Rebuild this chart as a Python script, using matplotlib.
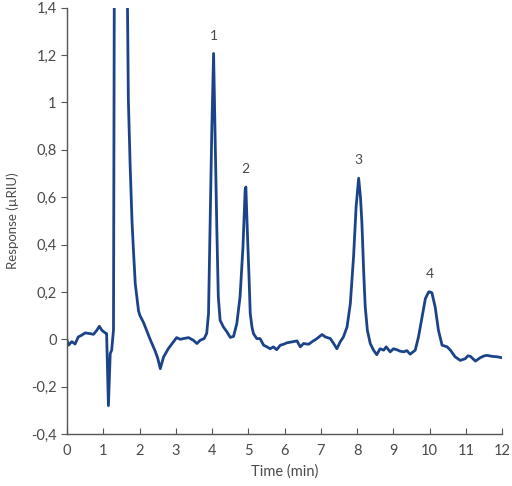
import matplotlib
matplotlib.use("Agg")
import matplotlib.pyplot as plt
from matplotlib.ticker import FuncFormatter, MultipleLocator

# Chromatogram trace (time in min, response in uRIU)
zeit = [0.00, 0.04, 0.13, 0.22, 0.31, 0.40, 0.50, 0.63, 0.73, 0.82, 0.89, 0.96, 1.05, 1.09,
        1.14, 1.19, 1.23, 1.28, 1.31, 1.47, 1.63, 1.69, 1.74, 1.79, 1.83, 1.88, 1.97, 2.01,
        2.06, 2.11, 2.20, 2.29, 2.36, 2.43, 2.50, 2.57, 2.66, 2.79, 2.93, 3.02, 3.12, 3.21,
        3.35, 3.48, 3.58, 3.67, 3.78, 3.85, 3.90, 3.94, 3.99, 4.04, 4.08, 4.13, 4.17, 4.22,
        4.31, 4.41, 4.50, 4.59, 4.68, 4.77, 4.85, 4.91, 4.93, 4.97, 5.02, 5.05, 5.10, 5.14,
        5.23, 5.32, 5.42, 5.51, 5.60, 5.69, 5.78, 5.88, 5.97, 6.06, 6.20, 6.34, 6.43, 6.52,
        6.66, 6.75, 6.89, 7.03, 7.12, 7.26, 7.35, 7.44, 7.53, 7.62, 7.72, 7.81, 7.90, 7.97,
        8.04, 8.09, 8.13, 8.18, 8.22, 8.28, 8.36, 8.45, 8.54, 8.63, 8.73, 8.80, 8.91, 9.00,
        9.09, 9.18, 9.28, 9.37, 9.46, 9.60, 9.69, 9.79, 9.88, 9.97, 10.01, 10.06, 10.15,
        10.24, 10.34, 10.48, 10.57, 10.70, 10.84, 10.98, 11.05, 11.12, 11.26, 11.39, 11.50,
        11.58, 11.72, 11.86, 12.00]
signal = [-0.004, -0.025, -0.010, -0.020, 0.010, 0.017, 0.027, 0.024, 0.021, 0.038, 0.055,
          0.038, 0.027, 0.024, -0.280, -0.060, -0.046, 0.040, 2.000, 4.000, 2.000, 1.010,
          0.730, 0.500, 0.376, 0.235, 0.120, 0.100, 0.085, 0.070, 0.035, 0.000, -0.025,
          -0.050, -0.080, -0.124, -0.075, -0.040, -0.011, 0.007, 0.000, 0.003, 0.007, -0.004,
          -0.018, -0.004, 0.003, 0.025, 0.108, 0.460, 0.880, 1.207, 0.880, 0.460, 0.180,
          0.080, 0.052, 0.031, 0.008, 0.012, 0.066, 0.180, 0.390, 0.630, 0.643, 0.460,
          0.250, 0.110, 0.050, 0.024, 0.003, 0.003, -0.025, -0.032, -0.040, -0.032, -0.044,
          -0.025, -0.021, -0.015, -0.011, -0.007, -0.032, -0.018, -0.021, -0.011, 0.003,
          0.020, 0.010, 0.003, -0.018, -0.040, -0.011, 0.010, 0.052, 0.150, 0.350, 0.560,
          0.680, 0.600, 0.490, 0.280, 0.140, 0.038, -0.018, -0.046, -0.065, -0.040, -0.046,
          -0.032, -0.053, -0.040, -0.044, -0.050, -0.053, -0.048, -0.063, -0.046, 0.010,
          0.094, 0.172, 0.200, 0.200, 0.196, 0.136, 0.038, -0.025, -0.032, -0.046, -0.074,
          -0.089, -0.082, -0.070, -0.072, -0.092, -0.078, -0.070, -0.068, -0.072, -0.074,
          -0.078]

peak_nr = ["1", "2", "3", "4"]
peak_zeit = [4.04, 4.91, 8.02, 10.01]
peak_hoehe = [1.207, 0.643, 0.680, 0.200]

textfarbe = "#4a4a4a"
plt.rcParams['font.family'] = ['Lato', 'DejaVu Sans']

fig = plt.figure(figsize=(5.12, 4.86), dpi=100)
ax = fig.add_axes([0.131, 0.107, 0.850, 0.877])
ax.plot(zeit, signal, color='#1b4389', linewidth=2.0, solid_joinstyle='round')

for nr, t, h in zip(peak_nr, peak_zeit, peak_hoehe):
    ax.text(t, h + 0.05, nr, ha='center', va='bottom', fontsize=10, color=textfarbe)

ax.set_xlim(0, 12)
ax.set_ylim(-0.4, 1.4)
ax.xaxis.set_major_locator(MultipleLocator(1))
ax.yaxis.set_major_locator(MultipleLocator(0.2))
ax.yaxis.set_major_formatter(FuncFormatter(lambda v, p: f"{v:.1f}".rstrip('0').rstrip('.').replace('.', ',')
                                           if abs(v) > 1e-9 else "0"))
ax.set_xlabel("Time (min)", fontsize=10.5, color=textfarbe, labelpad=5)
ax.set_ylabel("Response (µRIU)", fontsize=9.5, color=textfarbe, labelpad=9)

for s in ['top', 'right']:
    ax.spines[s].set_visible(False)
for s in ['left', 'bottom']:
    ax.spines[s].set_color('#555555')
    ax.spines[s].set_linewidth(1.0)
ax.tick_params(axis='x', direction='in', length=4, colors='#555555', labelcolor=textfarbe,
               labelsize=10.5, pad=7)
ax.tick_params(axis='y', direction='out', length=4, colors='#555555', labelcolor=textfarbe,
               labelsize=10.5)

fig.savefig("out.png", dpi=100)
